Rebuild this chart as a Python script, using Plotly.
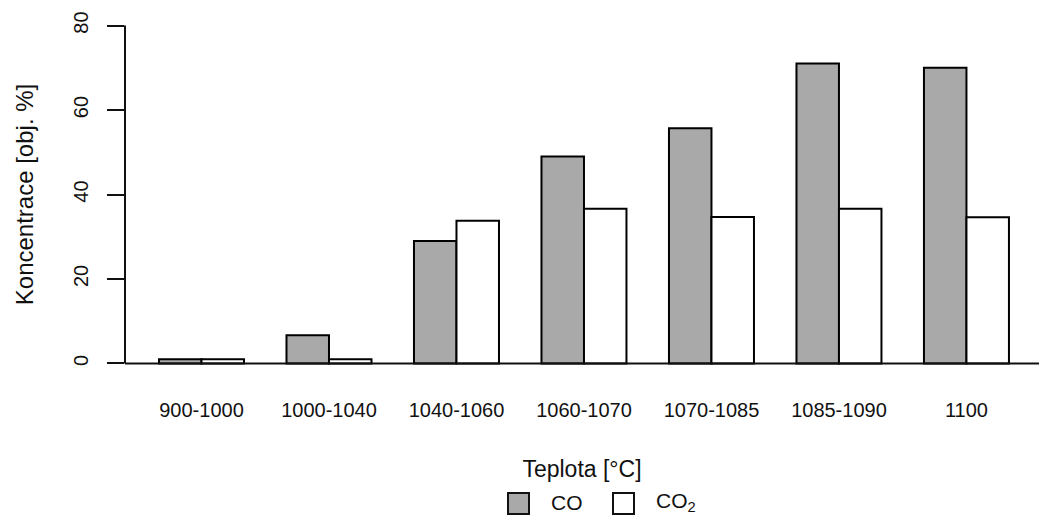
import plotly.graph_objects as go

# Temperature intervals and gas concentrations (vol. %)
teplota = ["900-1000", "1000-1040", "1040-1060", "1060-1070", "1070-1085", "1085-1090", "1100"]
co = [1, 6.7, 29, 49, 55.7, 71, 70]
co2 = [1, 1, 33.8, 36.6, 34.7, 36.6, 34.6]

series_names = ["CO", "CO<sub>2</sub>"]
series_fill = ["#a9a9a9", "white"]

FONT = "Liberation Sans, Arial, sans-serif"
INK = "#111"

fig = go.Figure()
for vals, name, fill in zip([co, co2], series_names, series_fill):
    fig.add_trace(go.Bar(x=teplota, y=vals, name=name, showlegend=False,
                         marker=dict(color=fill, line=dict(color="black", width=2))))

fig.update_layout(
    width=1039, height=515,
    margin=dict(l=125, r=0, t=12, b=138),
    paper_bgcolor="white", plot_bgcolor="white",
    font=dict(family=FONT, size=20, color=INK),
    barmode="group", bargap=1/3, bargroupgap=0,
    xaxis=dict(range=[-0.6, 6.569], showline=False, showgrid=False, ticks="",
               zeroline=False, ticklabelstandoff=19,
               tickfont=dict(size=20),
               title=dict(text="Teplota [°C]", font=dict(size=23), standoff=40)),
    yaxis=dict(range=[-3.2, 83.2], tickvals=[0, 20, 40, 60, 80], showline=False,
               showgrid=False, zeroline=False, ticks="outside", ticklen=17, tickwidth=2,
               tickcolor=INK, tickangle=-90, tickfont=dict(size=20), ticklabelstandoff=11,
               title=dict(text="Koncentrace [obj. %]", font=dict(size=24), standoff=29)),
)

# y axis line spanning only the labelled range
fig.add_shape(type="line", xref="paper", yref="y", x0=0, x1=0, y0=0, y1=80,
              line=dict(color=INK, width=2))
# baseline at zero across the plot
fig.add_shape(type="line", xref="paper", yref="y", x0=0, x1=1, y0=0, y1=0,
              line=dict(color=INK, width=2), layer="above")

# key below the axis title: filled boxes with series names
PLOT_L, PLOT_W, PLOT_B, PLOT_H = 125, 914, 377, 365
def px(x):
    return (x - PLOT_L) / PLOT_W
def py(y):
    return (PLOT_B - y) / PLOT_H

key_x = [508, 613]
for kx, name, fill in zip(key_x, series_names, series_fill):
    fig.add_shape(type="rect", xref="paper", yref="paper",
                  x0=px(kx), x1=px(kx + 21), y0=py(514), y1=py(493),
                  fillcolor=fill, line=dict(color=INK, width=2))
    fig.add_annotation(xref="paper", yref="paper", x=px(kx + 41), y=py(502),
                       xanchor="left", yanchor="middle", showarrow=False,
                       text=name, font=dict(size=21, color=INK))

fig.write_html("out.html")
